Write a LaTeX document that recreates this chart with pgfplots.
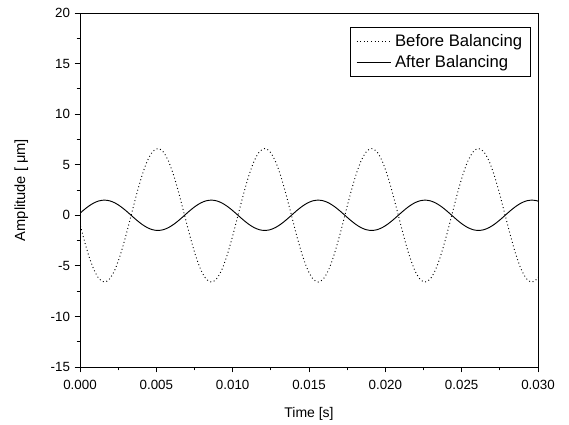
\documentclass[border=0pt]{standalone}
\usepackage{pgfplots}
\pgfplotsset{compat=1.18}
\usepackage{pgfplotstable}
\usepackage{fontspec}
\setmainfont{Liberation Sans}

\pgfplotstableread{
t a b
-0.00015 0 0
0.0002 0.464 -2.039
0.00055 0.882 -3.879
0.0009 1.214 -5.339
0.00125 1.427 -6.277
0.0016 1.500 -6.600
0.00195 1.427 -6.277
0.0023 1.214 -5.339
0.00265 0.882 -3.879
0.003 0.464 -2.039
0.00335 0 0
0.0037 -0.464 2.039
0.00405 -0.882 3.879
0.0044 -1.214 5.339
0.00475 -1.427 6.277
0.0051 -1.500 6.600
0.00545 -1.427 6.277
0.0058 -1.214 5.339
0.00615 -0.882 3.879
0.0065 -0.464 2.039
0.00685 0 0
0.0072 0.464 -2.039
0.00755 0.882 -3.879
0.0079 1.214 -5.339
0.00825 1.427 -6.277
0.0086 1.500 -6.600
0.00895 1.427 -6.277
0.0093 1.214 -5.339
0.00965 0.882 -3.879
0.01 0.464 -2.039
0.01035 0 0
0.0107 -0.464 2.039
0.01105 -0.882 3.879
0.0114 -1.214 5.339
0.01175 -1.427 6.277
0.0121 -1.500 6.600
0.01245 -1.427 6.277
0.0128 -1.214 5.339
0.01315 -0.882 3.879
0.0135 -0.464 2.039
0.01385 0 0
0.0142 0.464 -2.039
0.01455 0.882 -3.879
0.0149 1.214 -5.339
0.01525 1.427 -6.277
0.0156 1.500 -6.600
0.01595 1.427 -6.277
0.0163 1.214 -5.339
0.01665 0.882 -3.879
0.017 0.464 -2.039
0.01735 0 0
0.0177 -0.464 2.039
0.01805 -0.882 3.879
0.0184 -1.214 5.339
0.01875 -1.427 6.277
0.0191 -1.500 6.600
0.01945 -1.427 6.277
0.0198 -1.214 5.339
0.02015 -0.882 3.879
0.0205 -0.464 2.039
0.02085 0 0
0.0212 0.464 -2.039
0.02155 0.882 -3.879
0.0219 1.214 -5.339
0.02225 1.427 -6.277
0.0226 1.500 -6.600
0.02295 1.427 -6.277
0.0233 1.214 -5.339
0.02365 0.882 -3.879
0.024 0.464 -2.039
0.02435 0 0
0.0247 -0.464 2.039
0.02505 -0.882 3.879
0.0254 -1.214 5.339
0.02575 -1.427 6.277
0.0261 -1.500 6.600
0.02645 -1.427 6.277
0.0268 -1.214 5.339
0.02715 -0.882 3.879
0.0275 -0.464 2.039
0.02785 0 0
0.0282 0.464 -2.039
0.02855 0.882 -3.879
0.0289 1.214 -5.339
0.02925 1.427 -6.277
0.0296 1.500 -6.600
0.02995 1.427 -6.277
0.0303 1.214 -5.339
}\data

\begin{document}
\begin{tikzpicture}
\begin{axis}[
  scale only axis,
  width=343.5pt, height=265.5pt,
  xmin=0, xmax=0.030, ymin=-15, ymax=20,
  xtick={0,0.005,0.010,0.015,0.020,0.025,0.030},
  ytick={-15,-10,-5,0,5,10,15,20},
  minor tick num=1,
  tick align=outside,
  xtick pos=left, ytick pos=left,
  major tick length=4pt, minor tick length=2.5pt,
  tick style={black, line width=0.7pt},
  axis line style={line width=0.7pt},
  scaled x ticks=false,
  /pgf/number format/assume math mode=true,
  tick label style={font=\fontsize{10}{12}\selectfont},
  xticklabel style={yshift=-2.5pt, /pgf/number format/.cd, fixed, fixed zerofill, precision=3},
  xlabel={Time [s]},
  ylabel={Amplitude [ μm]},
  xlabel style={font=\fontsize{10.5}{12}\selectfont, yshift=-6pt},
  ylabel style={font=\fontsize{11}{13}\selectfont, yshift=10pt},
  legend style={at={(rel axis cs:0.985,0.96)}, anchor=north east,
    draw=black, line width=0.6pt, fill=white,
    font=\fontsize{12.5}{15}\selectfont, row sep=0.5pt,
    inner xsep=4pt, inner ysep=2.5pt,
    nodes={inner sep=2.5pt}},
  legend cell align=left,
  legend image code/.code={\draw[#1] (0pt,0pt) -- (26pt,0pt);},
  clip=true,
]
\addplot[black, dotted, line width=0.7pt, smooth] table[x=t, y=b] {\data};
\addlegendentry{Before Balancing}
\addplot[black, line width=0.7pt, smooth] table[x=t, y=a] {\data};
\addlegendentry{After Balancing}
\end{axis}
\path[use as bounding box] ([xshift=-60pt, yshift=-40.5pt]current axis.south west) rectangle ([xshift=23.25pt, yshift=9.75pt]current axis.north east);
\end{tikzpicture}
\end{document}
